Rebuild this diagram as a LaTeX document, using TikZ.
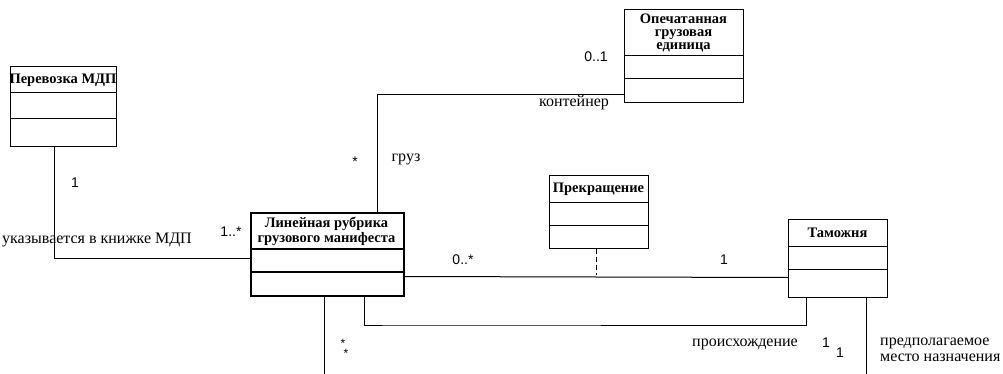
\documentclass[tikz,border=0pt]{standalone}
\usepackage{fontspec}
\setmainfont{Liberation Serif}
\setsansfont{Liberation Sans}
\begin{document}
\begin{tikzpicture}[x=1pt,y=-1pt,
  classbox/.style={draw=black,line width=1pt,anchor=north west,inner sep=0pt},
  thickbox/.style={classbox,line width=2pt},
  cname/.style={font=\rmfamily\bfseries\fontsize{14.5}{15}\selectfont,align=center,inner sep=0pt},
  conn/.style={draw=black,line width=1pt},
  mult/.style={font=\sffamily\fontsize{14}{14}\selectfont,inner sep=0pt},
  star/.style={font=\sffamily\fontsize{12}{12}\selectfont,inner sep=0pt},
  role/.style={font=\rmfamily\fontsize{16}{16}\selectfont,inner sep=0pt}]
\useasboundingbox (0,0) rectangle (1003,374);
% Перевозка МДП
\node[classbox,minimum width=106pt,minimum height=80pt] (perevozka) at (10,66) {};
\draw[line width=1pt] (10,93) -- (116,93) (10,119) -- (116,119);
\node[cname] (perevozkaT) at (63,80) {Перевозка МДП};
% Линейная рубрика
\node[thickbox,minimum width=153pt,minimum height=83pt] (lin) at (250,212) {};
\draw[line width=2pt] (250,249) -- (403,249) (250,272) -- (403,272);
\node[cname] (linT) at (326.5,231) {Линейная рубрика\\грузового манифеста};
% Опечатанная грузовая единица
\node[classbox,minimum width=119pt,minimum height=93pt] (opech) at (624,9) {};
\draw[line width=1pt] (624,56) -- (743,56) (624,79) -- (743,79);
\node[cname,font=\rmfamily\bfseries\fontsize{14.5}{13}\selectfont] (opechT) at (683.5,33) {Опечатанная\\грузовая\\единица};
% Прекращение
\node[classbox,minimum width=99pt,minimum height=73pt] (prekr) at (549,175) {};
\draw[line width=1pt] (549,202) -- (648,202) (549,225) -- (648,225);
\node[cname] (prekrT) at (598.5,189) {Прекращение};
% Таможня
\node[classbox,minimum width=99pt,minimum height=78pt] (tam) at (788,219) {};
\draw[line width=1pt] (788,246) -- (887,246) (788,269) -- (887,269);
\node[cname] (tamT) at (837.5,233) {Таможня};
% free ends
\coordinate (endA) at (324,374);
\coordinate (endB) at (866,374);
% connectors
\draw[conn] ([xshift=44pt]perevozka.south west) |- ([yshift=-3.5pt]lin.west);
\draw[conn] ([xshift=127pt]lin.north west) |- ([yshift=-38.5pt]opech.west);
\draw[conn] ([yshift=-22pt]lin.east) -- ([yshift=-19pt]tam.west);
\draw[conn] ([xshift=74pt]lin.south west) -- (endA);
\draw[conn] ([xshift=114pt]lin.south west) |- (400,325) -| ([xshift=18pt]tam.south west);
\draw[conn] ([xshift=78pt]tam.south west) -- (endB);
\draw[conn,dashed,dash pattern=on 5pt off 3pt] ([xshift=47pt]prekr.south west) -- (596,275);
% labels
\node[mult] (m1) at (75,183) {1};
\node[role] (r1) at (97,240) {указывается в книжке МДП};
\node[mult] (m2) at (231,232) {1..*};
\node[mult] (m3) at (355,162) {*};
\node[role] (r2) at (406,159) {груз};
\node[mult] (m4) at (596,57) {0..1};
\node[role] (r3) at (574,103) {контейнер};
\node[mult] (m5) at (463,260) {0..*};
\node[mult] (m6) at (724,260) {1};
\node[star] (m7) at (343,343) {*};
\node[star] (m8) at (346,353) {*};
\node[role] (r4) at (745,344) {происхождение};
\node[mult] (m9) at (826,343) {1};
\node[mult] (m10) at (840,353) {1};
\node[role,align=left,anchor=west] (r5) at (880,349.5) {предполагаемое\\место назначения};
\end{tikzpicture}
\end{document}
